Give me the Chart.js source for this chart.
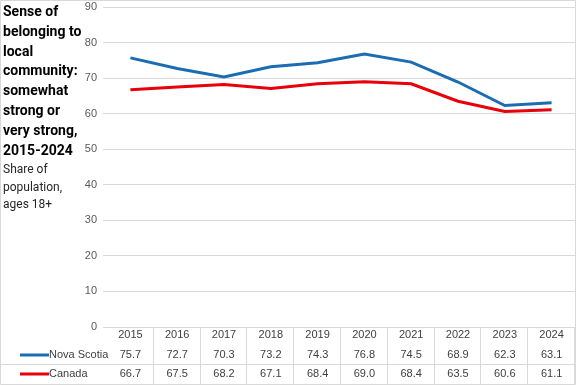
<!DOCTYPE html>
<html>
<head>
<meta charset="utf-8">
<script src="https://cdn.jsdelivr.net/npm/chart.js@4"></script>
<style>
  html, body { margin: 0; padding: 0; background: #fff; }
  #wrap { position: relative; width: 576px; height: 385px; }
  #title {
    position: absolute; left: 3px; top: 2px; width: 95px;
    font: bold 14px Roboto, sans-serif; line-height: 19.8px; color: #000;
  }
  #sub {
    position: absolute; left: 3px; top: 161px; width: 95px;
    font: 12px Roboto, sans-serif; line-height: 17.5px; color: #262626;
  }
</style>
</head>
<body>
<div id="wrap">
  <canvas id="chart" width="576" height="385"></canvas>
  <div id="title">Sense of<br>belonging to<br>local<br>community:<br>somewhat<br>strong or<br>very strong,<br>2015-2024</div>
  <div id="sub">Share of<br>population,<br>ages 18+</div>
</div>
<script>
const years = ['2015', '2016', '2017', '2018', '2019', '2020', '2021', '2022', '2023', '2024'];
const novaScotia = [75.7, 72.7, 70.3, 73.2, 74.3, 76.8, 74.5, 68.9, 62.3, 63.1];
const canada = [66.7, 67.5, 68.2, 67.1, 68.4, 69.0, 68.4, 63.5, 60.6, 61.1];
const yTicks = [0, 10, 20, 30, 40, 50, 60, 70, 80, 90];

const blue = '#1a6db3';
const red = '#e8000b';
const lineGray = '#d9d9d9';

// dessine le tableau de données sous l'axe
const dataTable = {
    id: 'dataTable',
    afterDraw(chart) {
        const ctx = chart.ctx;
        const x = chart.scales.x;
        const area = chart.chartArea;
        const n = years.length;
        const colW = (area.right - area.left) / n;
        const top = area.bottom;
        const rowY = [335, 355, 374];
        const sep = 364.5;
        const bottom = 384.5;

        ctx.save();
        ctx.strokeStyle = lineGray;
        ctx.lineWidth = 1;
        ctx.beginPath();
        for (let i = 1; i <= n; i++) {
            const px = Math.round(area.left + i * colW) - 0.5;
            ctx.moveTo(px, top);
            ctx.lineTo(px, bottom);
        }
        ctx.moveTo(0, sep); ctx.lineTo(area.right, sep);
        // cadre extérieur
        ctx.rect(0.5, 0.5, 575, 384);
        ctx.stroke();

        ctx.font = '11px "Liberation Sans", Arial, sans-serif';
        ctx.fillStyle = '#404040';
        ctx.textAlign = 'center';
        ctx.textBaseline = 'middle';
        years.forEach((yr, i) => {
            const cx = x.getPixelForValue(i);
            ctx.fillText(yr, cx, rowY[0]);
            ctx.fillText(novaScotia[i].toFixed(1), cx, rowY[1]);
            ctx.fillText(canada[i].toFixed(1), cx, rowY[2]);
        });

        // légende
        const series = [['Nova Scotia', blue, rowY[1]], ['Canada', red, rowY[2]]];
        ctx.textAlign = 'left';
        ctx.lineWidth = 3;
        series.forEach(([label, color, y]) => {
            ctx.strokeStyle = color;
            ctx.beginPath();
            ctx.moveTo(20, y);
            ctx.lineTo(49, y);
            ctx.stroke();
            ctx.fillText(label, 49, y);
        });
        ctx.restore();
    }
};

new Chart(document.getElementById('chart'), {
    type: 'line',
    data: {
        labels: years,
        datasets: [
            {
                label: 'Nova Scotia',
                data: novaScotia,
                borderColor: blue,
                borderWidth: 3,
                pointRadius: 0,
                tension: 0
            },
            {
                label: 'Canada',
                data: canada,
                borderColor: red,
                borderWidth: 3,
                pointRadius: 0,
                tension: 0
            }
        ]
    },
    options: {
        responsive: false,
        animation: false,
        layout: { padding: { left: 60, top: 7, right: 1, bottom: 58 } },
        plugins: {
            legend: { display: false },
            tooltip: { enabled: false }
        },
        scales: {
            x: {
                display: false,
                offset: true
            },
            y: {
                min: 0,
                max: 90,
                afterBuildTicks: (axis) => { axis.ticks = yTicks.map(v => ({ value: v })); },
                afterFit: (axis) => {
                    axis.width = 47;
                    axis.paddingTop = 0;
                    axis.paddingBottom = 0;
                },
                border: { display: false },
                grid: { color: lineGray, tickLength: 4 },
                ticks: {
                    color: '#595959',
                    padding: 6,
                    font: { family: '"Liberation Sans", Arial, sans-serif', size: 11 }
                }
            }
        }
    },
    plugins: [dataTable]
});
</script>
</body>
</html>
